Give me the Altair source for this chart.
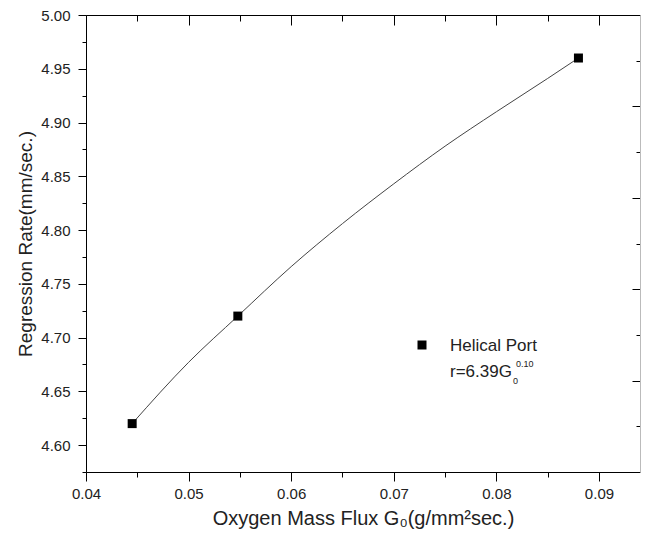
import altair as alt
import pandas as pd

# measured points
g_pts = [0.0445, 0.0548, 0.0880]
r_pts = [4.620, 4.720, 4.960]

# fitted curve
g_fit = [0.0445, 0.0500, 0.0548, 0.0600, 0.0650, 0.0700, 0.0750, 0.0800, 0.0850, 0.0880]
r_fit = [4.620, 4.677, 4.720, 4.766, 4.806, 4.843, 4.878, 4.910, 4.941, 4.960]

x_ticks = [0.04, 0.045, 0.05, 0.055, 0.06, 0.065, 0.07, 0.075, 0.08, 0.085, 0.09]
y_ticks = [4.575, 4.6, 4.625, 4.65, 4.675, 4.7, 4.725, 4.75, 4.775, 4.8, 4.825,
           4.85, 4.875, 4.9, 4.925, 4.95, 4.975, 5.0]
right_ticks = [1, 2, 3, 4, 5, 6, 7, 8, 9]

X_DOM = [0.04, 0.0940]
Y_DOM = [4.575, 5.0]
W, H = 554, 457
FONT = "Liberation Sans"

pts = pd.DataFrame({"G": g_pts, "r": r_pts})
fit = pd.DataFrame({"G": g_fit, "r": r_fit})

x_major = "round(datum.value*1000) % 10 == 0"
y_major = "round(datum.value*1000) % 50 == 0"

x_axis = alt.Axis(
    values=x_ticks, grid=False, domainColor="black", tickColor="black",
    tickSize={"condition": {"test": x_major, "value": 9}, "value": 5},
    labelExpr=f"{x_major} ? format(datum.value, '.2f') : ''",
    labelFlush=False, labelOverlap=False, labelPadding=5,
    labelFont=FONT, labelFontSize=15, labelColor="#222",
    title="Oxygen Mass Flux G₀(g/mm²sec.)", titleFont=FONT, titleFontSize=20,
    titleFontWeight="normal", titleColor="#222", titlePadding=7,
)
y_axis = alt.Axis(
    values=y_ticks, grid=False, domainColor="black", tickColor="black",
    tickSize={"condition": {"test": y_major, "value": 8}, "value": 4},
    labelExpr=f"{y_major} ? format(datum.value, '.2f') : ''",
    labelFlush=False, labelOverlap=False, labelPadding=8,
    labelFont=FONT, labelFontSize=15, labelColor="#222",
    title="Regression Rate(mm/sec.)", titleFont=FONT, titleFontSize=19,
    titleFontWeight="normal", titleColor="#222", titlePadding=5,
)

xs = alt.Scale(domain=X_DOM, nice=False, zero=False)
ys = alt.Scale(domain=Y_DOM, nice=False, zero=False)

curve = alt.Chart(fit).mark_line(
    color="#444", strokeWidth=1, interpolate="monotone"
).encode(
    x=alt.X("G:Q", scale=xs, axis=x_axis),
    y=alt.Y("r:Q", scale=ys, axis=y_axis),
)

points = alt.Chart(pts).mark_square(
    color="black", size=81, opacity=1
).encode(x=alt.X("G:Q", scale=xs, axis=None), y=alt.Y("r:Q", scale=ys, axis=None))

frame_df = pd.DataFrame({"gx": [0.05], "ry": [5]})
frame = alt.Chart(frame_df).mark_point(opacity=0).encode(
    x=alt.X("gx:Q", scale=alt.Scale(domain=X_DOM, nice=False, zero=False),
            axis=alt.Axis(orient="top", values=x_ticks, labels=False, title=None,
                          grid=False, domainColor="black", tickColor="black",
                          tickSize={"condition": {"test": x_major, "value": -10}, "value": -6})),
    y=alt.Y("ry:Q", scale=alt.Scale(domain=[0, 10], nice=False, zero=False),
            axis=alt.Axis(orient="right", values=right_ticks, labels=False, title=None,
                          grid=False, domainColor="#bbbbbb", tickColor="black",
                          tickSize={"condition": {"test": "datum.value % 2 == 0", "value": -8}, "value": -4})),
)

leg_df = pd.DataFrame({"k": [1]})
leg_mark = alt.Chart(leg_df).mark_square(color="black", size=81, opacity=1).encode(
    x=alt.value(336), y=alt.value(330))
leg_t1 = alt.Chart(leg_df).mark_text(
    text="Helical Port", align="left", baseline="middle", font=FONT, fontSize=17, color="#222"
).encode(x=alt.value(364), y=alt.value(331))
leg_t2 = alt.Chart(leg_df).mark_text(
    text="r=6.39G", align="left", baseline="middle", font=FONT, fontSize=17, color="#222"
).encode(x=alt.value(364), y=alt.value(357))
leg_sub = alt.Chart(leg_df).mark_text(
    text="0", align="left", baseline="middle", font=FONT, fontSize=9, color="#222"
).encode(x=alt.value(427), y=alt.value(366))
leg_sup = alt.Chart(leg_df).mark_text(
    text="0.10", align="left", baseline="middle", font=FONT, fontSize=9, color="#222"
).encode(x=alt.value(430), y=alt.value(349))

chart = alt.layer(
    curve, points, frame, leg_mark, leg_t1, leg_t2, leg_sub, leg_sup
).resolve_scale(
    x="independent", y="independent"
).properties(
    width=W, height=H,
    autosize=alt.AutoSizeParams(type="none"),
    padding={"left": 78, "top": 7, "right": 1, "bottom": 64},
).configure_view(stroke=None).configure(background="white")

chart.save("out.html", embed_options={"renderer": "svg", "actions": False})
